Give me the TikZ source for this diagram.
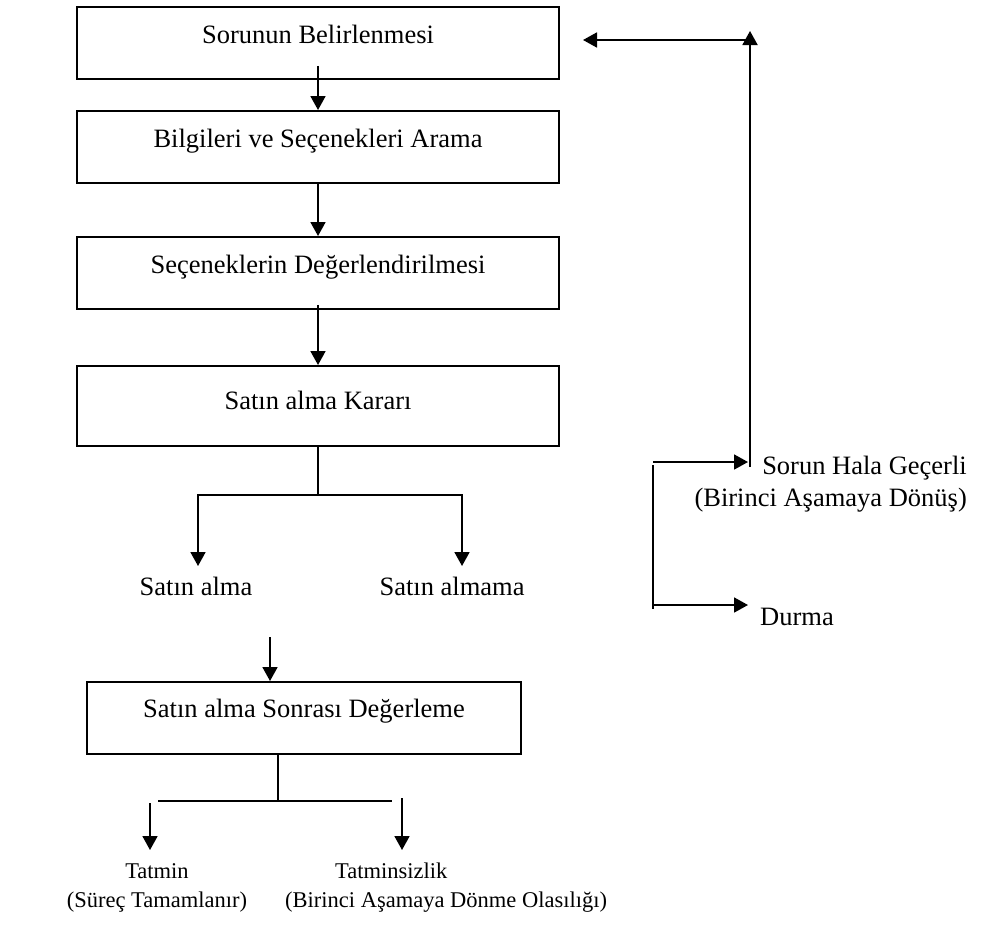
\documentclass[tikz,border=0pt]{standalone}
\usepackage{fontspec}
\setmainfont{Liberation Serif}
\usetikzlibrary{arrows.meta}

\tikzset{
  every node/.style={font=\fontsize{26.5}{32}\selectfont, inner sep=0pt},
  stepbox/.style={draw, line width=1.8pt, minimum width=482pt,
                  text height=37pt, text depth=35pt, anchor=north},
  link/.style={line width=1.8pt},
  arr/.style={link, -{Triangle[length=14pt,width=15pt]}},
  outcome/.style={font=\fontsize{22.5}{29}\selectfont},
}

\begin{document}
\begin{tikzpicture}[x=1pt,y=-1pt]
\useasboundingbox (0,0) rectangle (981,926);

% main chain of stages
\node[stepbox] (b1) at (318,6)   {Sorunun Belirlenmesi};
\node[stepbox] (b2) at (318,110) {Bilgileri ve Seçenekleri Arama};
\node[stepbox] (b3) at (318,236) {Seçeneklerin Değerlendirilmesi};
\node[stepbox, text height=44pt, text depth=36pt] (b4) at (318,365) {Satın alma Kararı};
\node[stepbox, minimum width=434pt, text height=36pt, text depth=36pt] (b5) at (304,681)
  {Satın alma Sonrası Değerleme};

\draw[arr] ([yshift=14pt]b1.south) -- (b2.north);
\draw[arr] (b2.south) -- (b3.north);
\draw[arr] ([yshift=5pt]b3.south) -- (b4.north);

% purchase decision branches
\node[anchor=base] (sa)  at (196,595) {Satın alma};
\node[anchor=base] (sna) at (452,595) {Satın almama};
\coordinate (s1) at (318,495);
\coordinate (sL) at (198,566);
\coordinate (sR) at (462,566);
\draw[link] (b4.south) -- (s1);
\draw[arr] (s1) -| (sL);
\draw[arr] (s1) -| (sR);

\coordinate (p5) at (270,637);
\draw[arr] (p5) -- (p5 |- b5.north);

% post-purchase outcomes
\coordinate (t1) at (278,801);
\coordinate (hL) at (158,801);
\coordinate (hR) at (392,801);
\draw[link] (b5.south -| t1) -- (t1);
\draw[link] (hL) -- (hR);
\coordinate (oL0) at (150,803);
\coordinate (oL) at (150,850);
\coordinate (oR0) at (402,798);
\coordinate (oR) at (402,850);
\draw[arr] (oL0) -- (oL);
\draw[arr] (oR0) -- (oR);
\node[outcome, align=center, anchor=base] (sat) at (157,907)
  {Tatmin\\(Süreç Tamamlanır)};
\node[outcome, align=left, anchor=base west] (dis) at (285,907)
  {\hspace*{50pt}Tatminsizlik\\(Birinci Aşamaya Dönme Olasılığı)};

% feedback loop on the right
\node[align=right, anchor=base east] (still) at (967,506)
  {Sorun Hala Geçerli\\(Birinci Aşamaya Dönüş)};
\node[anchor=base west] (stop) at (760,625) {Durma};

\coordinate (kTop) at (653,462);
\coordinate (kBot) at (653,605);
\draw[arr] (kTop) -- (kTop -| 748,0);
\draw[link] (653,465) -- (653,609);
\draw[arr] (kBot) -- (kBot -| 748,0);

\coordinate (up0) at (750,467);
\coordinate (upT) at (750,31);
\draw[arr] (up0) -- (upT);
\coordinate (rc) at (751,40);
\coordinate (rl) at (583,40);
\draw[arr] (rc) -- (rl);
\end{tikzpicture}
\end{document}
